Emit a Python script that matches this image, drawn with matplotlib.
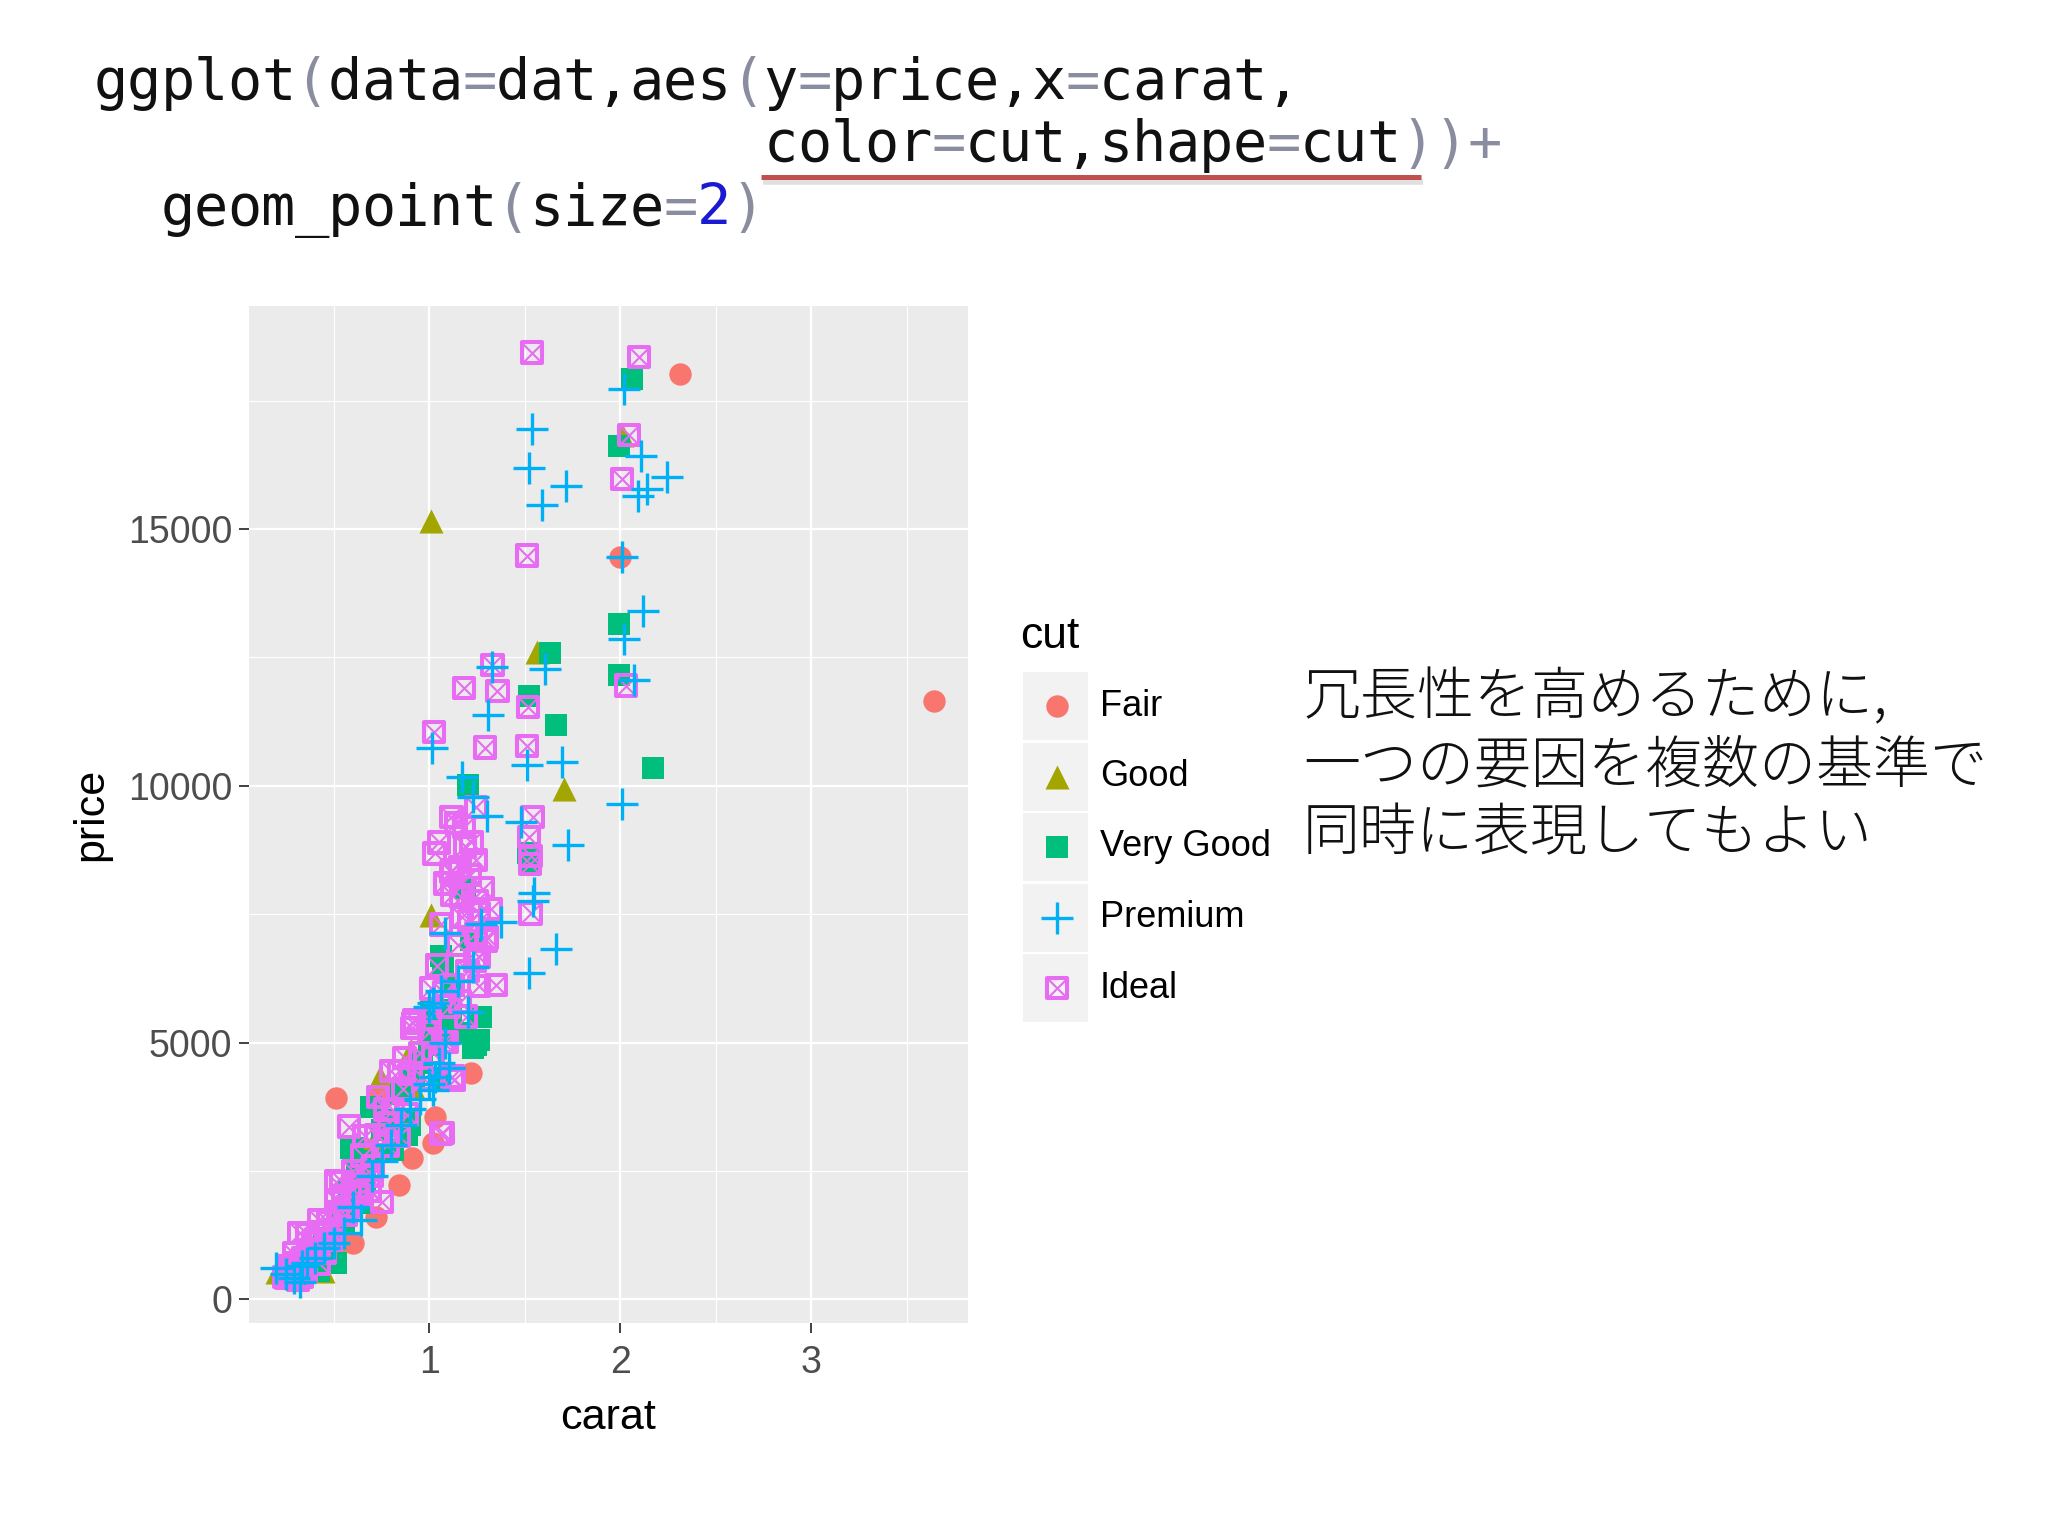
import matplotlib
matplotlib.use("Agg")
import matplotlib.pyplot as plt
from matplotlib.path import Path
from matplotlib.patches import Rectangle
from matplotlib.ticker import MultipleLocator

# --- data (carat, price), one list per cut ---
fair_carat = [0.60, 0.72, 0.84, 0.91, 1.02, 1.03, 0.74, 0.51, 1.22, 2.00, 2.31, 3.64]
fair_price = [1090, 1610, 2230, 2750, 3040, 3560, 3990, 3916, 4400, 14460, 18020, 11660]

good_carat = [1.01, 2.01, 1.565, 1.705, 1.01, 0.905, 0.74, 0.915, 0.705, 0.99,
              0.66, 0.50, 0.20, 0.44, 0.31, 0.55]
good_price = [15160, 16830, 12615, 9930, 7480, 4856, 4337, 4142, 3040, 5000,
              3000, 1130, 530, 560, 700, 1800]

vgood_carat = [2.06, 1.99, 1.995, 1.63, 1.995, 1.52, 1.663, 2.17, 1.204, 1.515,
               1.53, 1.185, 1.06, 1.07, 1.115, 1.26, 1.17, 1.00, 1.245, 1.03,
               1.27, 0.695, 0.59, 0.895, 0.90, 0.81, 0.60, 0.62, 0.64, 0.51,
               0.42, 0.75, 0.85, 0.45, 0.35, 0.55, 0.96, 1.23, 1.11,
               0.30, 0.38, 0.48, 0.53, 0.66, 0.70, 0.78, 0.92, 1.01, 1.13,
               1.22, 1.05, 0.88, 0.58]
vgood_price = [17930, 16625, 13159, 12580, 12162, 11743, 11185, 10348, 10021, 8685,
               8476, 8015, 6681, 6540, 5635, 5050, 5180, 4950, 4953, 5300,
               5500, 3752, 2943, 3494, 3400, 2900, 2943, 2550, 1880, 705,
               560, 3300, 4000, 1200, 650, 1500, 4600, 4904, 5200,
               500, 900, 1100, 1600, 2300, 2700, 3500, 4300, 5600, 6100,
               7000, 4300, 3200, 2100]

prem_carat = [2.02, 1.536, 2.106, 1.523, 2.246, 2.14, 1.717, 2.09, 1.59, 2.007,
              2.12, 2.02, 1.33, 1.607, 2.07, 1.307, 1.012, 1.51, 1.695, 1.17,
              2.007, 1.23, 1.48, 1.725, 1.55, 1.54, 1.66, 1.52, 1.375, 1.08,
              1.23, 1.02, 1.027, 0.90, 1.02, 1.05, 1.00, 0.64, 0.33, 0.197,
              0.32, 0.45, 0.55, 0.70, 0.80, 0.95, 1.10, 1.15, 1.30,
              0.25, 0.40, 0.50, 0.60, 0.75, 0.85, 1.00, 1.08, 1.20, 1.06,
              1.27, 0.29, 0.36]
prem_price = [17720, 16940, 16416, 16193, 16011, 15774, 15837, 15635, 15460, 14463,
              13396, 12859, 12322, 12266, 12060, 11374, 10732, 10397, 10467, 10174,
              9637, 9786, 9300, 8846, 7906, 7750, 6822, 6349, 7353, 7127,
              6477, 5765, 4337, 3700, 4077, 4597, 5700, 1550, 650, 607,
              340, 1000, 1300, 2400, 3000, 3900, 4500, 6200, 9405,
              500, 800, 1100, 1800, 2700, 3400, 4200, 5000, 5600, 6000,
              7300, 420, 700]

ideal_carat = [1.536, 2.098, 2.044, 2.007, 1.51, 1.33, 2.03, 1.18, 1.356, 1.516,
               1.025, 1.29, 1.51, 1.115, 1.245, 1.027, 1.18, 1.245, 1.12, 1.54,
               1.52, 1.53, 1.525, 1.53, 1.115, 1.21, 1.165, 1.26, 1.17, 1.245,
               1.30, 1.26, 1.35, 1.01, 1.12, 1.26, 0.915, 1.19, 1.07, 0.84,
               1.13, 0.92, 0.91, 1.12, 1.09, 0.58, 0.81, 1.07, 0.705, 1.06,
               0.51, 0.62, 0.69, 0.75, 0.51, 0.424, 0.49, 0.32, 0.39, 0.267,
               0.33, 0.25, 0.42, 0.31, 1.14, 1.185, 1.16, 1.25, 1.21, 1.295,
               1.12, 1.075, 1.00, 0.87, 0.80, 0.73, 0.66, 0.84, 0.79, 0.54,
               0.46, 0.36, 0.29, 0.24, 0.56, 0.63, 0.70,
               1.05, 1.08, 1.22, 1.28, 1.15, 1.20, 1.04, 1.10, 1.00, 0.95,
               0.90, 0.86, 0.77, 0.72, 0.65, 0.60, 0.55, 0.52, 0.47, 0.43,
               0.40, 0.37, 0.34, 0.30, 0.28, 0.26, 0.31, 0.35, 0.45, 0.50,
               0.57, 0.68, 0.78, 0.88, 0.97, 1.02, 1.16, 1.24, 1.32, 1.06]
ideal_price = [18438, 18347, 16834, 15976, 14484, 12350, 11952, 11903, 11848, 11534,
               11046, 10746, 10781, 9397, 9592, 8685, 9200, 8554, 8360, 9397,
               9000, 8640, 8476, 7516, 8326, 8262, 7840, 7516, 7450, 7127,
               7050, 6672, 6121, 6057, 6121, 6100, 5376, 5505, 5018, 4450,
               4270, 5440, 5280, 4337, 5018, 3363, 3688, 3235, 2585, 3230,
               2292, 2200, 2120, 1900, 1936, 1547, 1158, 1288, 1090, 638,
               430, 420, 700, 533, 9278, 8821, 8414, 7753, 7372, 6990,
               7880, 5973, 5465, 4700, 4449, 3940, 3177, 3177, 3432, 2288,
               1271, 1271, 890, 432, 1652, 2034, 2415,
               8900, 8100, 8900, 8000, 6900, 6400, 6500, 5700, 5200, 4800,
               4400, 4100, 3700, 3200, 2800, 2500, 2000, 1700, 1500, 1300,
               1150, 950, 800, 700, 600, 480, 380, 550, 900, 1350,
               1800, 2400, 3000, 3600, 4300, 4800, 5800, 6600, 7600, 7300]

cut_labels = ["Fair", "Good", "Very Good", "Premium", "Ideal"]
cut_colors = ["#F8766D", "#A3A500", "#00BF7D", "#00B0F6", "#E76BF3"]

code_lines = ["ggplot(data=dat,aes(y=price,x=carat,",
              "color=cut,shape=cut))+",
              "geom_point(size=2)"]
note_lines = ["冗長性を高めるために,", "一つの要因を複数の基準で", "同時に表現してもよい"]

sans = ["Liberation Sans", "DejaVu Sans"]
plt.rcParams["font.family"] = sans

W, H = 2048, 1536
fig = plt.figure(figsize=(W / 100, H / 100), dpi=100, facecolor="white")

# panel in pixel coords: x 249-968, y 306-1323
ax = fig.add_axes([249 / W, 1 - 1323 / H, (968 - 249) / W, (1323 - 306) / H])
ax.set_facecolor("#EBEBEB")
for s in ax.spines.values():
    s.set_visible(False)

x_path = Path([(-1, -1), (1, 1), (-1, 1), (1, -1)],
              [Path.MOVETO, Path.LINETO, Path.MOVETO, Path.LINETO])

SZ = {"o": 260, "^": 300, "s": 240, "+": 560, "i": 215}


def draw_marks(a, xs, ys, kind, col, z=3):
    if kind == "+":
        a.scatter(xs, ys, s=SZ["+"], marker="+", color=col, linewidths=2.4, zorder=z)
    elif kind == "i":
        a.scatter(xs, ys, s=SZ["i"], marker="s", facecolors="none",
                  edgecolors=col, linewidths=2.9, zorder=z)
        a.scatter(xs, ys, s=SZ["i"], marker=x_path, color=col,
                  linewidths=1.5, zorder=z)
    else:
        a.scatter(xs, ys, s=SZ[kind], marker=kind, color=col, linewidths=0, zorder=z)


kinds = ["o", "^", "s", "+", "i"]
series = [(fair_carat, fair_price), (good_carat, good_price),
          (vgood_carat, vgood_price), (prem_carat, prem_price),
          (ideal_carat, ideal_price)]
# drawing order: Fair, Good, Very Good, Ideal, Premium
draw_z = [3.0, 3.1, 3.2, 3.4, 3.3]
for (xs, ys), k, c, z in zip(series, kinds, cut_colors, draw_z):
    draw_marks(ax, xs, ys, k, c, z)

ax.set_xlim(0.055, 3.82)
ax.set_ylim(-460, 19344)
ax.set_xticks([1, 2, 3])
ax.set_yticks([0, 5000, 10000, 15000])
ax.xaxis.set_minor_locator(MultipleLocator(0.5))
ax.yaxis.set_minor_locator(MultipleLocator(2500))
ax.grid(which="major", color="white", linewidth=1.6)
ax.grid(which="minor", color="white", linewidth=0.8)
ax.set_axisbelow(True)
ax.tick_params(which="major", length=7, width=1.3, color="#333333",
               labelsize=27, labelcolor="#4D4D4D")
ax.tick_params(axis="x", pad=9)
ax.tick_params(axis="y", pad=5)
ax.tick_params(which="minor", length=0)
ax.set_xlabel("carat", fontsize=31, labelpad=12)
ax.set_ylabel("price", fontsize=31, labelpad=12)

# overlay in pixel coordinates for code text, legend and note
ov = fig.add_axes([0, 0, 1, 1])
ov.set_xlim(0, W)
ov.set_ylim(H, 0)
ov.axis("off")
ov.patch.set_alpha(0)

# code snippet, monospaced grid
pitch = 33.5
code_pos = [(94, 99), (94 + 20 * pitch, 161), (94 + 2 * pitch, 225)]
grey_chars = "()=+"
for line, (x0, yb) in zip(code_lines, code_pos):
    for i, ch in enumerate(line):
        if ch == "2":
            col = "#1a1ad0"
        elif ch in grey_chars:
            col = "#8a8ca0"
        else:
            col = "#111111"
        ov.text(x0 + i * pitch + pitch / 2, yb, ch, fontsize=41, color=col,
                family="DejaVu Sans Mono", ha="center", va="baseline")

# red underline with soft shadow
ov.plot([763, 1423], [182, 182], color="#cccccc", lw=4, alpha=0.6,
        solid_capstyle="butt")
ov.plot([761, 1421], [177, 177], color="#C0504D", lw=3.6,
        solid_capstyle="butt")

# legend
ov.text(1020, 637, "cut", fontsize=32, ha="left", va="center")
row_y = [706, 776.5, 847, 917.5, 988]
kx = 1057
for lab, col, yc, k in zip(cut_labels, cut_colors, row_y, kinds):
    ov.add_patch(Rectangle((1023, yc - 34), 65, 68, facecolor="#F2F2F2",
                           edgecolor="none"))
    draw_marks(ov, [kx], [yc], k, col)
    ov.text(1100, yc, lab, fontsize=26, ha="left", va="center")

# japanese note
for txt, yc in zip(note_lines, [698, 766, 834]):
    ov.text(1303, yc, txt, fontsize=41, ha="left", va="center",
            family=["Noto Sans CJK JP", "DejaVu Sans"], fontweight="light",
            color="#111111")

fig.savefig("out.png", dpi=100, facecolor="white")
